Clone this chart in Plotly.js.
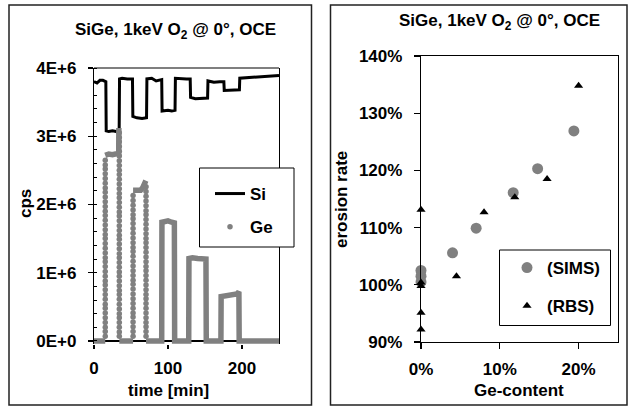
<!DOCTYPE html>
<html><head><meta charset="utf-8">
<script src="https://cdn.plot.ly/plotly-3.0.1.min.js"></script>
<style>html,body{margin:0;padding:0;background:#fff}#chart{width:630px;height:408px}</style>
</head><body><div id="chart"></div>
<script>
// ---------- Left chart: SIMS depth profile (cps, in units of 1E+6) ----------
const siTime = [0, 4, 8, 12, 16, 16.5, 20, 25, 30, 34, 34.5, 38, 45, 52, 52.5, 58, 65, 71, 71.5, 78, 84, 91.5, 92, 100, 105, 109.5, 110, 118, 125, 130, 130.5, 137, 145, 153.5, 154, 162, 170, 175.5, 176, 185, 196.5, 197, 210, 225, 240, 250];
const siCps  = [3.80, 3.78, 3.82, 3.82, 3.80, 3.08, 3.07, 3.08, 3.07, 3.06, 3.84, 3.85, 3.84, 3.84, 3.29, 3.27, 3.26, 3.27, 3.84, 3.85, 3.81, 3.83, 3.37, 3.38, 3.37, 3.38, 3.85, 3.84, 3.84, 3.84, 3.57, 3.55, 3.55, 3.56, 3.81, 3.79, 3.80, 3.80, 3.67, 3.67, 3.68, 3.85, 3.86, 3.87, 3.88, 3.89];

// Ge signal: plateaus and solid (dense) parts of the trace
const geLineTime = [0, 5, 10, 15.2, null,
  15.2, 20, 25, 30, 33.4, 33.6, null,
  34.2, 40, 46, 52.8, null,
  52.8, 58, 63, 66, 68.5, 70.1, null,
  70.3, 76, 82, 88, 91.5,
  91.8, 95, 100, 105, 108.6,
  109, 115, 122, 128,
  128.3, 133, 140, 146, 151.3,
  151.7, 158, 165, 171.5,
  171.8, 177, 183, 189, 193, 195.8,
  196.2, 205, 215, 225, 235, 245, 250];
const geLineCps  = [0, 0, 0, 0, null,
  2.72, 2.74, 2.73, 2.74, 2.75, 3.12, null,
  0, 0, 0, 0, null,
  2.21, 2.22, 2.21, 2.25, 2.32, 2.35, null,
  0, 0, 0, 0, 0,
  1.74, 1.75, 1.76, 1.74, 1.73,
  0, 0, 0, 0,
  1.21, 1.22, 1.21, 1.21, 1.20,
  0, 0, 0, 0,
  0.65, 0.66, 0.67, 0.68, 0.69, 0.72,
  0, 0, 0, 0, 0, 0, 0];
// Ge signal: individually visible points on the fast edges
const geEdgeTimes = [15.2, 34.2, 52.8, 70.3];
const geEdge1Cps = [0.07, 0.14, 0.20, 0.27, 0.34, 0.41, 0.48, 0.54, 0.61, 0.68, 0.75, 0.82, 0.88, 0.95, 1.02, 1.09, 1.16, 1.22, 1.29, 1.36, 1.43, 1.50, 1.56, 1.63, 1.70, 1.77, 1.84, 1.90, 1.97, 2.04, 2.11, 2.18, 2.24, 2.31, 2.38, 2.45, 2.52, 2.58, 2.65];
const geEdge2Cps = [0.07, 0.13, 0.20, 0.27, 0.34, 0.40, 0.47, 0.54, 0.61, 0.68, 0.74, 0.81, 0.88, 0.95, 1.01, 1.08, 1.15, 1.22, 1.28, 1.35, 1.42, 1.49, 1.55, 1.62, 1.69, 1.76, 1.83, 1.89, 1.96, 2.03, 2.10, 2.16, 2.23, 2.30, 2.37, 2.44, 2.50, 2.57, 2.64, 2.71, 2.78, 2.85, 2.92, 2.98, 3.05];
const geEdge3Cps = [0.07, 0.14, 0.21, 0.28, 0.35, 0.41, 0.48, 0.55, 0.62, 0.69, 0.76, 0.83, 0.89, 0.96, 1.03, 1.10, 1.17, 1.24, 1.31, 1.37, 1.44, 1.51, 1.58, 1.65, 1.72, 1.79, 1.85, 1.92, 1.99, 2.06, 2.13];
const geEdge4Cps = [0.07, 0.14, 0.21, 0.27, 0.34, 0.41, 0.48, 0.55, 0.62, 0.68, 0.75, 0.82, 0.89, 0.96, 1.03, 1.09, 1.16, 1.23, 1.30, 1.37, 1.44, 1.50, 1.57, 1.64, 1.71, 1.78, 1.85, 1.91, 1.98, 2.05, 2.12, 2.19, 2.26];
const timeTicks = [0, 100, 200];
const cpsTicks = [0, 1, 2, 3, 4];
const cpsTickText = ['0E+0', '1E+6', '2E+6', '3E+6', '4E+6'];

// ---------- Right chart: erosion rate vs Ge content (percent) ----------
const simsGe   = [0, 0, 0, 4.0, 7.0, 11.7, 14.8, 19.4];
const simsRate = [102.5, 101.5, 100.5, 105.6, 109.9, 116.1, 120.3, 126.9];
const rbsGe    = [0, 0, 0, 0, 0, 4.5, 8.0, 11.9, 16.0, 20.0];
const rbsRate  = [113.1, 100.4, 99.8, 95.1, 92.2, 101.5, 112.7, 115.3, 118.5, 134.8];
const geTicks = [0, 10, 20];
const geTickText = ['0%', '10%', '20%'];
const rateTicks = [90, 100, 110, 120, 130, 140];
const rateTickText = ['90%', '100%', '110%', '120%', '130%', '140%'];

// ---------- build ----------
const W = 630, H = 408;
const px = x => x / W, py = y => 1 - y / H;
const FONT = {family: 'Liberation Sans, Arial, sans-serif', size: 17, color: '#000', weight: 700};
const GRAY = '#808080';

const edgeCols = [geEdge1Cps, geEdge2Cps, geEdge3Cps, geEdge4Cps];
const geDotT = [], geDotV = [];
edgeCols.forEach((col, i) => col.forEach(v => { geDotT.push(geEdgeTimes[i]); geDotV.push(v); }));

const traces = [
  {x: siTime, y: siCps, mode: 'lines', name: 'Si', line: {color: '#000', width: 3}, xaxis: 'x', yaxis: 'y', legend: 'legend', legendgroup: 'si', cliponaxis: false},
  {x: geLineTime, y: geLineCps, mode: 'lines', name: 'Ge', showlegend: false, line: {color: GRAY, width: 5.5}, xaxis: 'x', yaxis: 'y', legendgroup: 'ge', cliponaxis: false, connectgaps: false},
  {x: geDotT, y: geDotV, mode: 'markers', name: 'Ge', marker: {color: GRAY, size: 5.5}, xaxis: 'x', yaxis: 'y', legend: 'legend', legendgroup: 'ge', cliponaxis: false},
  {x: simsGe, y: simsRate, mode: 'markers', name: '(SIMS)', marker: {color: GRAY, size: 11}, xaxis: 'x2', yaxis: 'y2', legend: 'legend2', legendgroup: 'sims', cliponaxis: false},
  {x: rbsGe, y: rbsRate, mode: 'markers', name: '(RBS)', marker: {color: '#000', size: 8, symbol: 'triangle-up'}, xaxis: 'x2', yaxis: 'y2', legend: 'legend2', legendgroup: 'rbs', cliponaxis: false}
];

const axBase = {showline: true, linecolor: '#000', linewidth: 1.2, mirror: true, ticks: 'outside', ticklen: 5, tickwidth: 1.2, tickcolor: '#000', showgrid: false, zeroline: false, tickfont: FONT, tickmode: 'array', fixedrange: true};

const layout = {
  width: W, height: H, margin: {l: 0, r: 0, t: 0, b: 0},
  paper_bgcolor: '#fff', plot_bgcolor: '#fff', font: FONT,
  // left panel: the cps axis starts a hair below zero so the thick Ge baseline is not clipped;
  // the zero line of the cps axis serves as the time axis line
  xaxis: Object.assign({}, axBase, {domain: [px(94), px(279)], range: [0, 250], tickvals: timeTicks, ticktext: timeTicks.map(String), anchor: 'y', showline: false, mirror: false, ticklen: 4, ticklabelstandoff: 4}),
  yaxis: Object.assign({}, axBase, {domain: [py(344.4), py(68)], range: [-0.05, 4], tickvals: cpsTicks, ticktext: cpsTickText, anchor: 'x', ticklabelstandoff: 8,
    zeroline: true, zerolinecolor: '#000', zerolinewidth: 1.2,
    minor: {tickmode: 'linear', tick0: 0, dtick: 0.2, ticks: 'inside', ticklen: 3, tickcolor: '#000', tickwidth: 1}}),
  xaxis2: Object.assign({}, axBase, {domain: [px(421), px(618)], range: [0, 25], tickvals: geTicks, ticktext: geTickText, anchor: 'y2', ticklen: 6, ticklabelstandoff: 5}),
  yaxis2: Object.assign({}, axBase, {domain: [py(342), py(56)], range: [90, 140], tickvals: rateTicks, ticktext: rateTickText, anchor: 'x2', ticklen: 6, ticklabelstandoff: 8}),
  legend: {x: px(210), y: py(176), xanchor: 'left', yanchor: 'top', bgcolor: 'rgba(0,0,0,0)', borderwidth: 0, font: FONT, traceorder: 'grouped', tracegroupgap: 8},
  legend2: {x: px(507), y: py(250), xanchor: 'left', yanchor: 'top', bgcolor: 'rgba(0,0,0,0)', borderwidth: 0, font: FONT, traceorder: 'grouped', tracegroupgap: 13},
  shapes: [
    {type: 'rect', xref: 'paper', yref: 'paper', x0: px(9), x1: px(311.5), y0: py(405), y1: py(5), line: {color: '#222', width: 1.5}, layer: 'below'},
    {type: 'rect', xref: 'paper', yref: 'paper', x0: px(330.5), x1: px(627), y0: py(405), y1: py(5), line: {color: '#222', width: 1.5}, layer: 'below'},
    {type: 'line', xref: 'x domain', yref: 'y domain', x0: 0, x1: 1, y0: 1, y1: 1, line: {color: '#000', width: 1.2}, layer: 'above'},
    {type: 'rect', xref: 'paper', yref: 'paper', x0: px(199.5), x1: px(294), y0: py(247), y1: py(168), line: {color: '#000', width: 1}, fillcolor: '#fff', layer: 'above'},
    {type: 'rect', xref: 'paper', yref: 'paper', x0: px(499.5), x1: px(610.5), y0: py(325.5), y1: py(250), line: {color: '#000', width: 1}, fillcolor: '#fff', layer: 'above'}
  ],
  annotations: [
    {text: 'SiGe, 1keV O<sub>2</sub> @ 0°, OCE', xref: 'paper', yref: 'paper', x: px(175), y: py(31), xanchor: 'center', yanchor: 'middle', showarrow: false, font: FONT},
    {text: 'SiGe, 1keV O<sub>2</sub> @ 0°, OCE', xref: 'paper', yref: 'paper', x: px(499), y: py(22), xanchor: 'center', yanchor: 'middle', showarrow: false, font: FONT},
    {text: 'cps', xref: 'paper', yref: 'paper', x: px(25), y: py(204), xanchor: 'center', yanchor: 'middle', textangle: -90, showarrow: false, font: FONT},
    {text: 'time [min]', xref: 'paper', yref: 'paper', x: px(168), y: py(390), xanchor: 'center', yanchor: 'middle', showarrow: false, font: FONT},
    {text: 'erosion rate', xref: 'paper', yref: 'paper', x: px(341), y: py(200), xanchor: 'center', yanchor: 'middle', textangle: -90, showarrow: false, font: FONT},
    {text: 'Ge-content', xref: 'paper', yref: 'paper', x: px(519), y: py(390), xanchor: 'center', yanchor: 'middle', showarrow: false, font: FONT}
  ]
};

Plotly.newPlot('chart', traces, layout, {displayModeBar: false, staticPlot: true});
</script>
</body></html>
